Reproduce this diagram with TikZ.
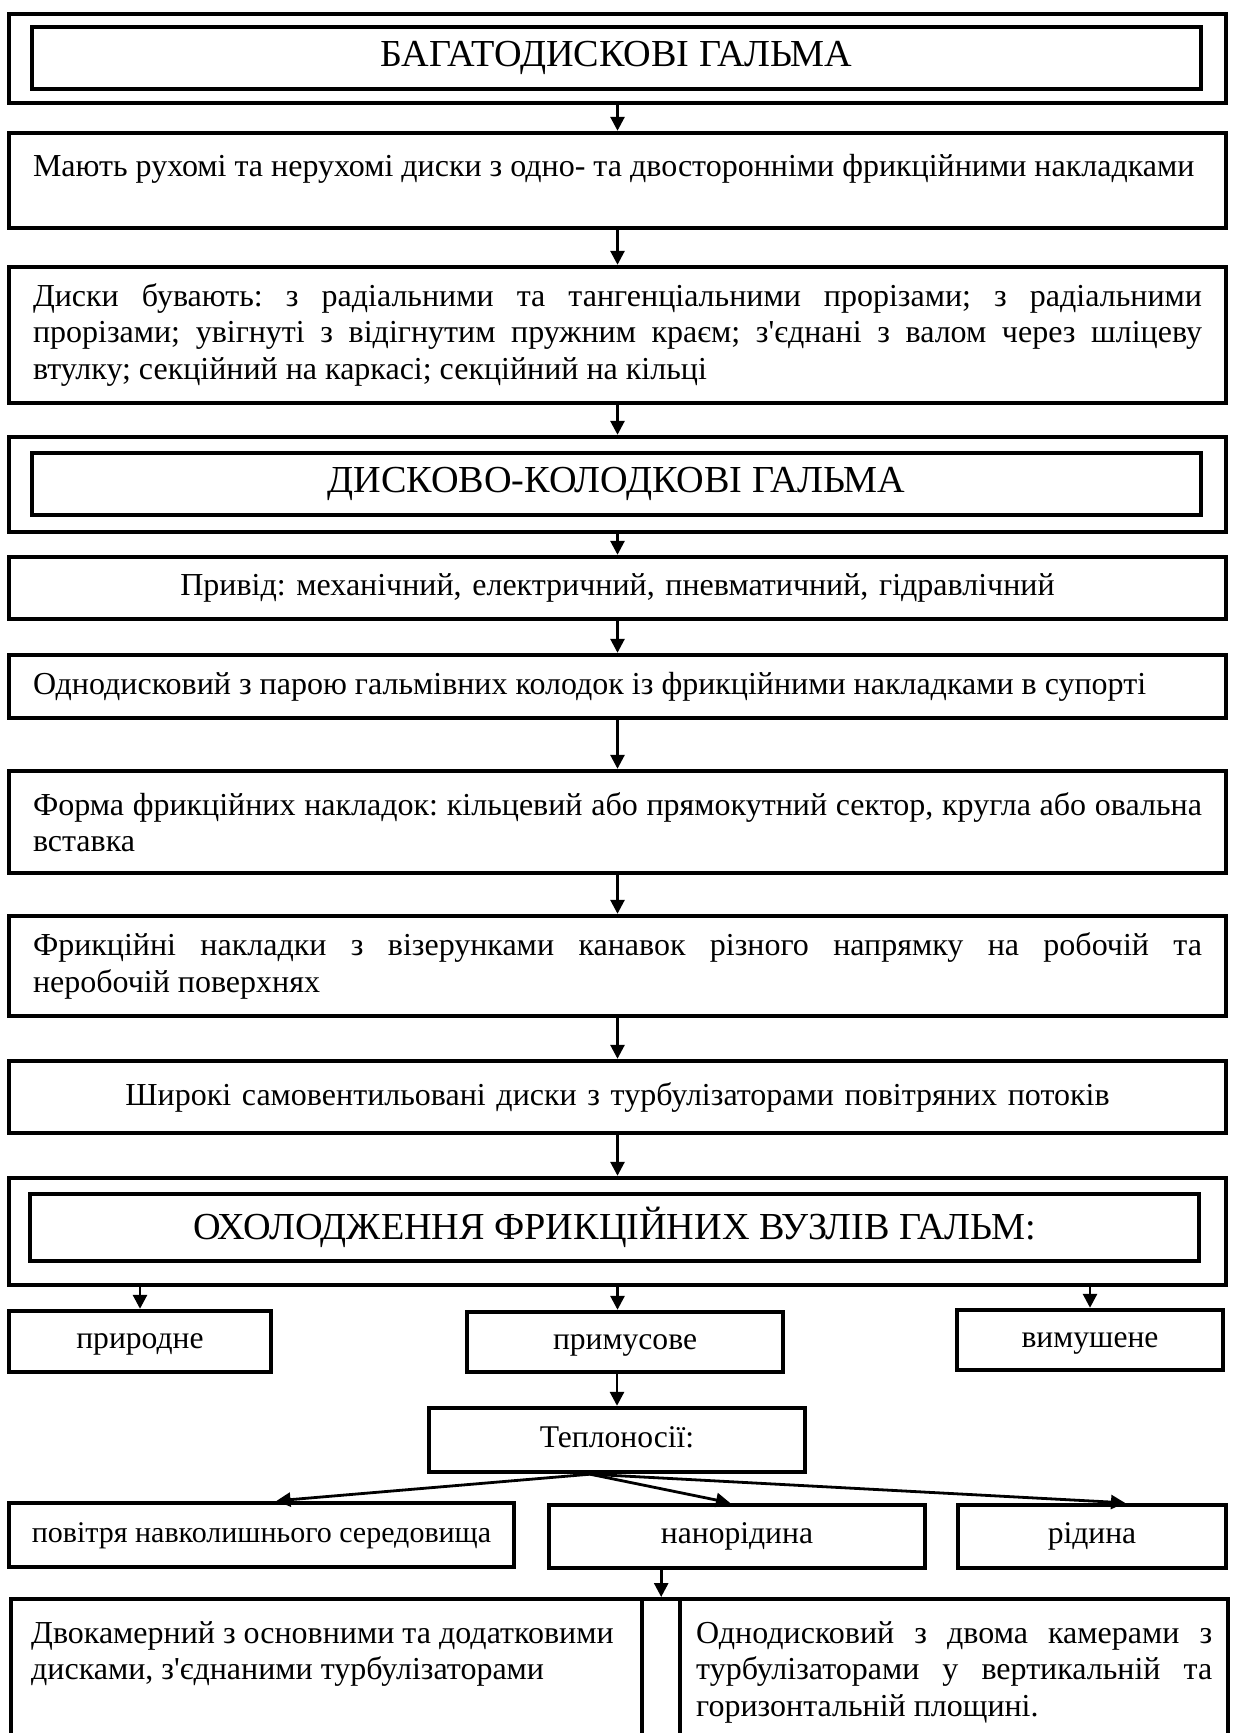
\documentclass[tikz,border=0pt]{standalone}
\usepackage{fontspec}
\setmainfont{Liberation Serif}
\usetikzlibrary{arrows.meta}
\newcommand{\ap}{\textquotesingle}
\frenchspacing
\tikzset{
  frame/.style={draw, line width=2.2pt, minimum width=608.5pt, inner sep=0pt},
  titl/.style={draw, line width=2.2pt, minimum width=584.5pt, minimum height=31pt, inner sep=0pt, font=\fontsize{19.1}{21}\selectfont},
  box/.style={draw, line width=2.2pt, minimum width=608.5pt, text width=584.5pt, inner xsep=12pt, inner ysep=0pt, align=justify, font=\fontsize{16}{18.2}\selectfont},
  sbox/.style={draw, line width=2.2pt, inner sep=0pt, align=center, text height=11pt, text depth=4pt, font=\fontsize{15.8}{18.2}\selectfont},
  arr/.style={line width=1.4pt, -{Triangle[width=7pt,length=7pt]}}
}
\begin{document}
\begin{tikzpicture}[x=0.5pt,y=-0.5pt]
\useasboundingbox (0,0) rectangle (1235,1733);
\clip (0,0) rectangle (1235,1733);

% multi-disc brakes
\node[frame, minimum height=44.5pt] (bagF) at (617.5,58.5) {};
\node[titl] (bag) at (616.5,58) {БАГАТОДИСКОВІ ГАЛЬМА};
\node[box, text height=12pt, text depth=15.5pt, inner ysep=10pt] (maiut) at (617.5,180.5) {Мають рухомі та нерухомі диски з одно- та двосторонніми фрикційними накладками};
\node[box, minimum height=68pt] (dysky) at (617.5,335) {Диски бувають: з радіальними та тангенціальними прорізами; з радіальними\linebreak прорізами; увігнуті з відігнутим пружним краєм; з\ap єднані з валом через шліцеву\linebreak втулку; секційний на каркасі; секційний на кільці};

% disc-pad brakes
\node[frame, minimum height=47.5pt] (dyskF) at (617.5,484.5) {};
\node[titl] (dysk) at (616.5,484) {ДИСКОВО-КОЛОДКОВІ ГАЛЬМА};
\node[box, align=center, minimum height=31pt] (pryvid) at (617.5,588) {Привід: механічний, електричний, пневматичний, гідравлічний};
\node[box, minimum height=31.5pt] (odnod) at (617.5,686.5) {Однодисковий з парою гальмівних колодок із фрикційними накладками в супорті};
\node[box, minimum height=51pt] (forma) at (617.5,822) {Форма фрикційних накладок: кільцевий або прямокутний сектор, кругла або овальна\linebreak вставка};
\node[box, minimum height=50pt] (fryk) at (617.5,966) {Фрикційні накладки з візерунками канавок різного напрямку на робочій та\linebreak неробочій поверхнях};
\node[box, align=center, minimum height=36pt] (shyr) at (617.5,1097) {Широкі самовентильовані диски з турбулізаторами повітряних потоків};

% cooling
\node[frame, minimum height=53.5pt] (oholF) at (617.5,1231.5) {};
\node[titl, minimum height=33.5pt] (ohol) at (614.5,1227.5) {ОХОЛОДЖЕННЯ ФРИКЦІЙНИХ ВУЗЛІВ ГАЛЬМ:};
\node[sbox, minimum width=131pt, minimum height=30.5pt] (pryr) at (140,1341.5) {природне};
\node[sbox, minimum width=158pt, minimum height=30pt] (prym) at (625,1342) {примусове};
\node[sbox, minimum width=133pt, minimum height=30pt] (vymu) at (1090,1340) {вимушене};
\node[sbox, minimum width=188pt, minimum height=32pt] (teplo) at (617,1440) {Теплоносії:};
\node[sbox, minimum width=252.5pt, minimum height=32pt, font=\fontsize{15}{18}\selectfont] (povit) at (261.5,1535) {повітря навколишнього середовища};
\node[sbox, minimum width=188pt, minimum height=31.5pt] (nano) at (737,1536.5) {нанорідина};
\node[sbox, minimum width=134pt, minimum height=31.5pt] (ridyna) at (1092,1536.5) {рідина};
\node[box, anchor=north west, minimum width=315.5pt, text width=295.5pt, inner xsep=10pt, inner ysep=10pt, text height=12pt, text depth=100pt] (dvok) at (9,1597) {Двокамерний з основними та додатковими\newline дисками, з\ap єднаними турбулізаторами};
\node[draw, line width=2.2pt, anchor=north west, minimum width=19pt, minimum height=150pt] (gap) at (640,1597) {};
\node[box, anchor=north west, minimum width=274pt, text width=258pt, inner xsep=8pt, inner ysep=10pt, text height=12pt, text depth=100pt] (odnok) at (678,1597) {Однодисковий з двома камерами з\linebreak турбулізаторами у вертикальній та\linebreak горизонтальній площині.};

% arrows
\draw[arr] (bagF.south) -- (maiut.north);
\draw[arr] (maiut.south) -- (dysky.north);
\draw[arr] (dysky.south) -- (dyskF.north);
\draw[arr] (dyskF.south) -- (pryvid.north);
\draw[arr] (pryvid.south) -- (odnod.north);
\draw[arr] (odnod.south) -- (forma.north);
\draw[arr] (forma.south) -- (fryk.north);
\draw[arr] (fryk.south) -- (shyr.north);
\draw[arr] (shyr.south) -- (oholF.north);
\draw[arr] (oholF.south -| pryr.north) -- (pryr.north);
\draw[arr] (oholF.south) -- (oholF.south |- prym.north);
\draw[arr] (oholF.south -| vymu.north) -- (vymu.north);
\draw[arr] (prym.south -| teplo.north) -- (teplo.north);
\coordinate (fan) at ([xshift=-13.5pt]teplo.south);
\draw[arr] (fan) -- ([xshift=7.5pt]povit.north);
\draw[arr] (fan) -- ([xshift=-3.5pt]nano.north);
\draw[arr] (fan) -- ([xshift=16.5pt]ridyna.north);
\draw[arr] (nano.south -| gap.north) -- (gap.north);
\end{tikzpicture}
\end{document}
